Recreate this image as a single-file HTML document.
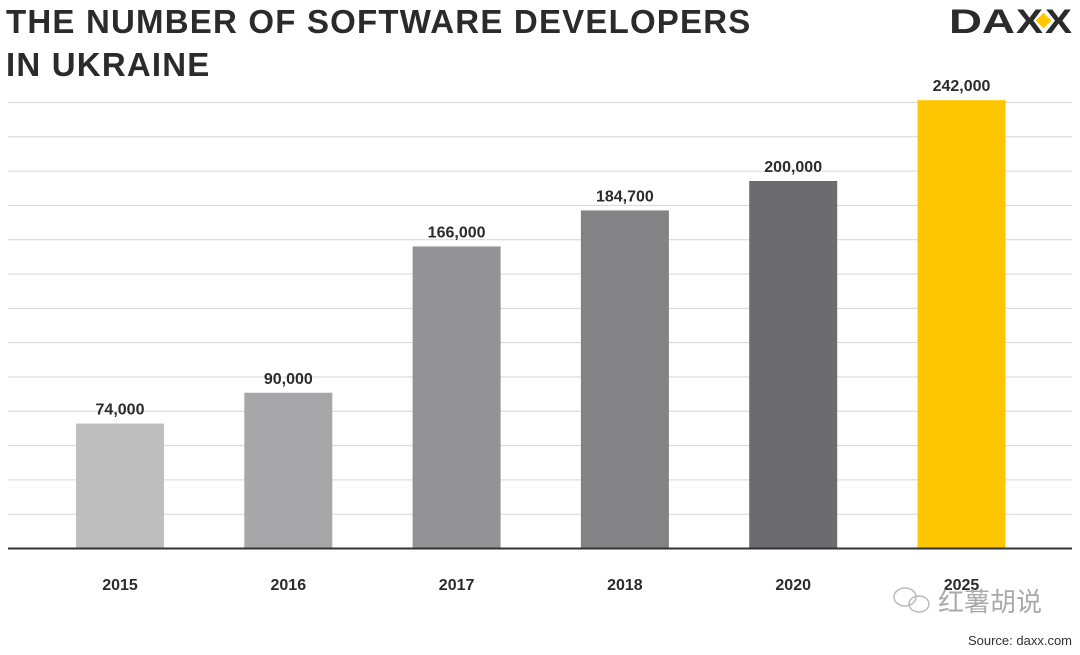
<!DOCTYPE html>
<html><head><meta charset="utf-8"><style>
body{margin:0;background:#fff;width:1080px;height:650px;overflow:hidden;font-family:"Liberation Sans",sans-serif}
</style></head><body>
<svg id="chart" width="1080" height="650" xmlns="http://www.w3.org/2000/svg">
<text x="6" y="33" font-size="33" font-weight="bold" fill="#2b2b2d" letter-spacing="1.2">THE NUMBER OF SOFTWARE DEVELOPERS</text>
<text x="6" y="76" font-size="33" font-weight="bold" fill="#2b2b2d" letter-spacing="1.2">IN UKRAINE</text>
<g>
<text x="949" y="33" font-size="34" font-weight="bold" fill="#2b2b2d" textLength="66" lengthAdjust="spacingAndGlyphs">DA</text>
<text x="1016" y="33" font-size="34" font-weight="bold" fill="#2b2b2d" textLength="27" lengthAdjust="spacingAndGlyphs">X</text>
<text x="1045" y="33" font-size="34" font-weight="bold" fill="#2b2b2d" textLength="27" lengthAdjust="spacingAndGlyphs">X</text>
<rect x="1038" y="15" width="11" height="11" fill="#fec600" transform="rotate(45 1043.5 20.5)"/>
</g>
<g id="grid"></g>
<g id="bars"></g>
<line x1="8" y1="548.5" x2="1072" y2="548.5" stroke="#333" stroke-width="2"/>
<g fill="none" stroke="#bbb" stroke-width="1.5">
<ellipse cx="905" cy="597" rx="11" ry="9"/><ellipse cx="919" cy="604" rx="10" ry="8"/>
</g>
<text x="938" y="611" font-size="26" fill="#aaa" font-family="'Noto Sans CJK SC',sans-serif">红薯胡说</text>
<text x="1072" y="645" font-size="13" fill="#333" text-anchor="end">Source: daxx.com</text>
</svg>
<script>
const categories=["2015","2016","2017","2018","2020","2025"];
const values=[74000,90000,166000,184700,200000,242000];
const labels=["74,000","90,000","166,000","184,700","200,000","242,000"];
const colors=["#bebebf","#a7a7a9","#939396","#838386","#6c6c70","#fec600"];
const NS="http://www.w3.org/2000/svg";
const base=548, top0=102;
const y=v=>base-(-18+1.925*v/1000);
const x=i=>76+i*168.3;
const bw=88;
const grid=document.getElementById('grid');
for(let k=0;k<13;k++){const gy=top0+k*(base-top0)/13;const l=document.createElementNS(NS,'line');


l.setAttribute('x1',8);l.setAttribute('x2',1072);l.setAttribute('y1',gy+0.5);l.setAttribute('y2',gy+0.5);l.setAttribute('stroke','#d6d6d6');grid.appendChild(l);}
const g=document.getElementById('bars');
categories.forEach((c,i)=>{
const r=document.createElementNS(NS,'rect');


r.setAttribute('x',x(i));r.setAttribute('y',y(values[i]));r.setAttribute('width',bw);r.setAttribute('height',base-y(values[i]));r.setAttribute('fill',colors[i]);g.appendChild(r);
const t=document.createElementNS(NS,'text');


t.setAttribute('x',x(i)+bw/2);t.setAttribute('y',y(values[i])-9);t.setAttribute('text-anchor','middle');t.setAttribute('font-size','16');t.setAttribute('font-weight','bold');t.setAttribute('fill','#2b2b2d');t.textContent=labels[i];g.appendChild(t);
const a=document.createElementNS(NS,'text');


a.setAttribute('x',x(i)+bw/2);a.setAttribute('y',590);a.setAttribute('text-anchor','middle');a.setAttribute('font-size','16');a.setAttribute('font-weight','bold');a.setAttribute('fill','#2b2b2d');a.textContent=c;g.appendChild(a);
});
</script>
</body></html>
